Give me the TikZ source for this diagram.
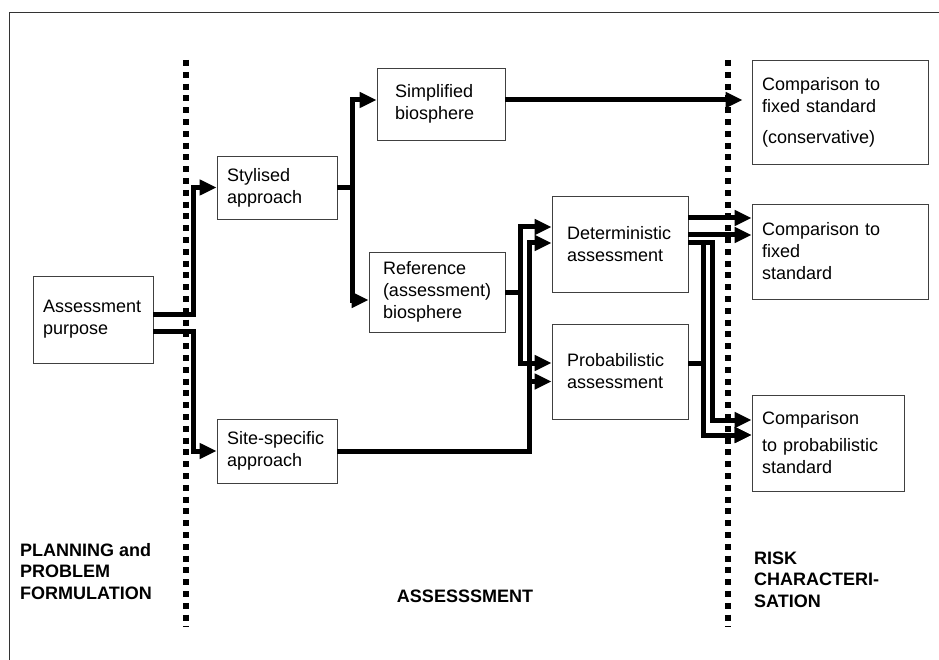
\documentclass[tikz,border=0pt]{standalone}
\usepackage{fontspec}
\setsansfont{Liberation Sans}
\usetikzlibrary{arrows.meta}

\begin{document}
\begin{tikzpicture}[
  x=1pt,y=-1pt,
  font=\sffamily\fontsize{18}{22}\selectfont,
  block/.style 2 args={draw=black!75,line width=0.8pt,align=left,inner xsep=10pt,inner ysep=0pt,text width=#1,minimum height=#2},
  phase/.style={font=\sffamily\bfseries\fontsize{18}{21.5}\selectfont,align=left,inner sep=0pt},
  divider/.style={line width=6pt,dash pattern=on 6pt off 5.8pt},
  frame/.style={draw=black!80,line width=0.8pt},
  to/.style={-{Triangle[length=17pt,width=15pt]},line width=5pt}]

  \useasboundingbox (0,0) rectangle (939,660);
  \draw[frame] (9,660) -- (9,12) -- (939,12);

  % Phase dividers
  \draw[divider] (186,60) -- (186,627);
  \draw[divider] (728,60) -- (728,627);

  % Position the nodes
  \node[block={100pt}{87pt}] (purpose) at (93,319.5) {Assessment\\purpose};
  \node[block={100pt}{63pt}] (stylised) at (277,187.5) {Stylised\\approach};
  \node[block={100pt}{64pt}] (site) at (277,451) {Site-specific\\approach};
  \node[block={92pt}{72pt},inner xsep=18pt] (simplified) at (441,104) {Simplified\\biosphere};
  \node[block={108pt}{80pt},inner xsep=14pt] (reference) at (437,292) {Reference\\(assessment)\\biosphere};
  \node[block={106pt}{96pt},inner xsep=15pt] (det) at (620,244) {Deterministic\\assessment};
  \node[block={106pt}{95pt},inner xsep=15pt] (prob) at (620,371.5) {Probabilistic\\assessment};
  \node[block={156pt}{104pt}] (fixedcons) at (840,112) {Comparison to\\fixed standard\\[9pt](conservative)};
  \node[block={156pt}{95pt}] (fixed) at (840,251.5) {Comparison to\\fixed\\standard};
  \node[block={132pt}{96pt}] (probstd) at (828,443) {Comparison\\[5pt]to probabilistic\\standard};

  % Phase labels (base anchor sits on the last line)
  \node[phase,anchor=base west] (planning) at (20,599) {PLANNING and\\PROBLEM\\FORMULATION};
  \node[phase,anchor=base] (assessment) at (465,602) {ASSESSSMENT};
  \node[phase,anchor=base west] (risk) at (754,607) {RISK\\CHARACTERI-\\SATION};

  % Draw the arrows between the nodes
  \draw[to] ([yshift=5.5]purpose.east) -- ++(40,0) |- (stylised);
  \draw[to] ([yshift=-11.5]purpose.east) -- ++(40,0) |- (site);
  \draw[to] (stylised.east) -- ++(15,0) |- ([yshift=4]simplified.west);
  \draw[to] (stylised.east) -- ++(15,0) |- ([yshift=-8]reference.west);
  \draw[to,shorten >=9pt] ([yshift=4]simplified.east) -- ([yshift=12]fixedcons.west);
  \draw[to] (reference.east) -- ++(15,0) |- ([yshift=17]det.west);
  \draw[to] (reference.east) -- ++(15,0) |- ([yshift=8.5]prob.west);
  \draw[to] (site.east) -- ++(192,0) |- ([yshift=1]det.west);
  \draw[to] (site.east) -- ++(192,0) |- ([yshift=-10]prob.west);
  \draw[to] ([yshift=26]det.east) -- ([yshift=33.5]fixed.west);
  \draw[to] ([yshift=9]det.east) -- ([yshift=16.5]fixed.west);
  \draw[to] ([yshift=1]det.east) -- ++(15,0) |- ([yshift=8]probstd.west);
  \draw[to] ([yshift=1]det.east) -- ++(24,0) |- ([yshift=23]probstd.west);
  \draw[to] ([yshift=8.5]prob.east) -- ++(15,0) |- ([yshift=8]probstd.west);
\end{tikzpicture}
\end{document}
